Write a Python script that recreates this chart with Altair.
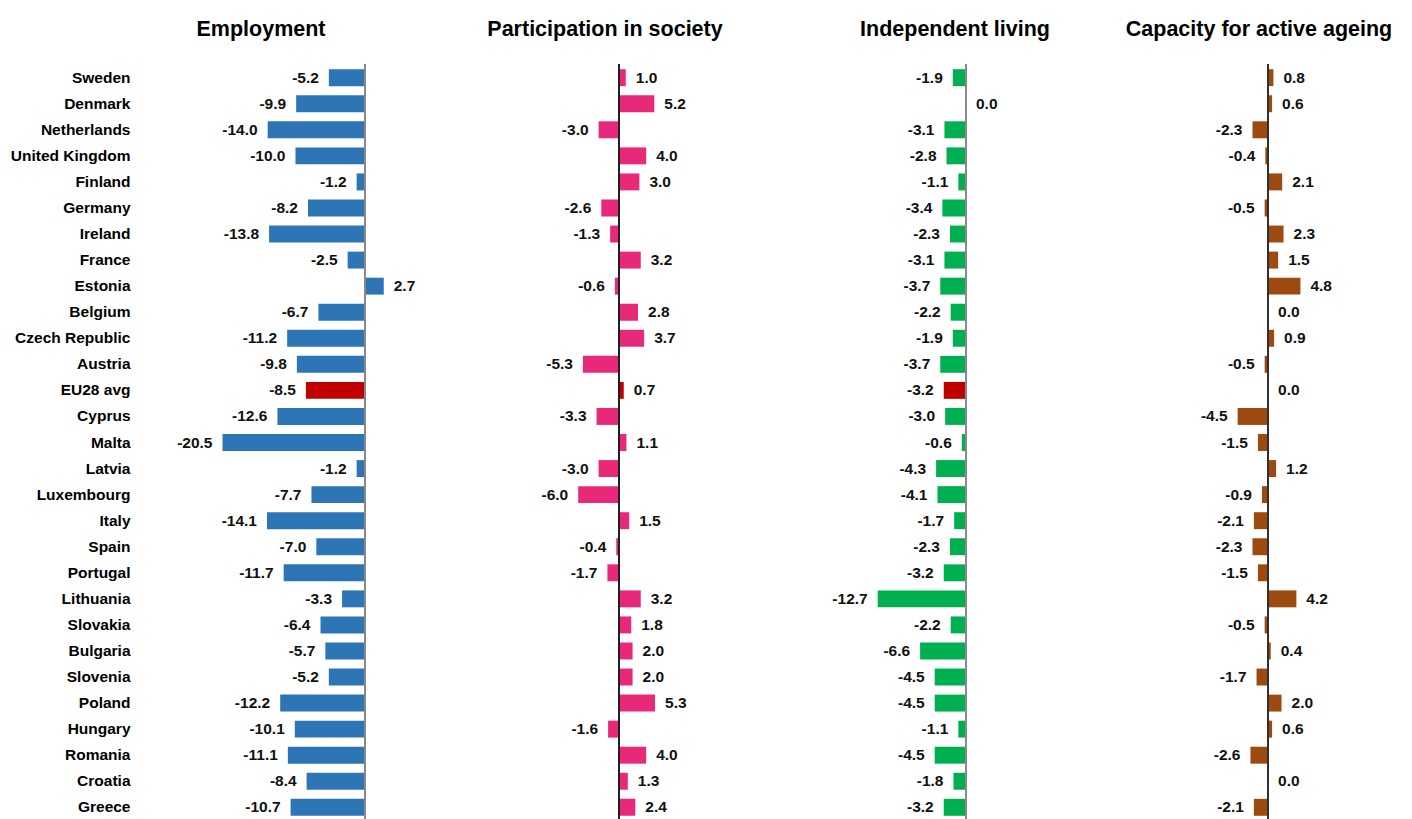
import altair as alt
import pandas as pd

countries = ["Sweden", "Denmark", "Netherlands", "United Kingdom", "Finland", "Germany",
             "Ireland", "France", "Estonia", "Belgium", "Czech Republic", "Austria",
             "EU28 avg", "Cyprus", "Malta", "Latvia", "Luxembourg", "Italy", "Spain",
             "Portugal", "Lithuania", "Slovakia", "Bulgaria", "Slovenia", "Poland",
             "Hungary", "Romania", "Croatia", "Greece"]

employment = [-5.2, -9.9, -14.0, -10.0, -1.2, -8.2, -13.8, -2.5, 2.7, -6.7, -11.2, -9.8,
              -8.5, -12.6, -20.5, -1.2, -7.7, -14.1, -7.0, -11.7, -3.3, -6.4, -5.7, -5.2,
              -12.2, -10.1, -11.1, -8.4, -10.7]
participation = [1.0, 5.2, -3.0, 4.0, 3.0, -2.6, -1.3, 3.2, -0.6, 2.8, 3.7, -5.3, 0.7,
                 -3.3, 1.1, -3.0, -6.0, 1.5, -0.4, -1.7, 3.2, 1.8, 2.0, 2.0, 5.3, -1.6,
                 4.0, 1.3, 2.4]
independent = [-1.9, 0.0, -3.1, -2.8, -1.1, -3.4, -2.3, -3.1, -3.7, -2.2, -1.9, -3.7, -3.2,
               -3.0, -0.6, -4.3, -4.1, -1.7, -2.3, -3.2, -12.7, -2.2, -6.6, -4.5, -4.5,
               -1.1, -4.5, -1.8, -3.2]
capacity = [0.8, 0.6, -2.3, -0.4, 2.1, -0.5, 2.3, 1.5, 4.8, 0.0, 0.9, -0.5, 0.0, -4.5,
            -1.5, 1.2, -0.9, -2.1, -2.3, -1.5, 4.2, -0.5, 0.4, -1.7, 2.0, 0.6, -2.6, 0.0,
            -2.1]

titles = ["Employment", "Participation in society", "Independent living",
          "Capacity for active ageing"]
series = [employment, participation, independent, capacity]

# styling per panel
colors = ["#2E75B6", "#E8297A", "#00B050", "#9C4A10"]
rule_colors = ["#8A8A8A", "#202020", "#8A8A8A", "#303030"]
domains = [[-32.37, 13.67], [-23.38, 26.62], [-23.88, 20.72], [-23.41, 18.07]]
widths = [320, 340, 310, 280]
title_dx = [-39, -25, 0, 9]
HIGHLIGHT = "#C00000"
FONT = "Liberation Sans"
PLOT_H = 757
LABEL_SIZE = 15.5


def panel(i):
    df = pd.DataFrame({"country": countries, "value": series[i]})
    df["label"] = [f"{v:.1f}" for v in series[i]]
    df["zero"] = 0.0
    df["hl"] = ["EU28" if c == "EU28 avg" else "other" for c in countries]
    if i == 0:
        yaxis = alt.Axis(title=None, ticks=False, domain=False, labelFont=FONT,
                         labelFontSize=LABEL_SIZE, labelFontWeight="bold",
                         labelColor="#000000", labelPadding=10,
                         minExtent=132, maxExtent=132)
    else:
        yaxis = None
    y = alt.Y("country:N", sort=countries, axis=yaxis, title=None,
              scale=alt.Scale(paddingInner=0.35, paddingOuter=0.2))
    xscale = alt.Scale(domain=domains[i], nice=False, zero=False)
    x = alt.X("value:Q", axis=None, title=None, scale=xscale)
    base = alt.Chart(df)
    bars = base.mark_bar().encode(
        x=x, y=y,
        color=alt.Color("hl:N", legend=None,
                        scale=alt.Scale(domain=["EU28", "other"],
                                        range=[HIGHLIGHT, colors[i]])),
    )
    rule = base.mark_rule(color=rule_colors[i], strokeWidth=1.3).encode(
        x=alt.X("zero:Q", axis=None, title=None, scale=xscale))
    neg = base.transform_filter("datum.value < 0").mark_text(
        align="right", baseline="middle", dx=-10, font=FONT, fontSize=LABEL_SIZE,
        fontWeight="bold", color="#111111").encode(x=x, y=y, text="label:N")
    pos = base.transform_filter("datum.value >= 0").mark_text(
        align="left", baseline="middle", dx=10, font=FONT, fontSize=LABEL_SIZE,
        fontWeight="bold", color="#111111").encode(x=x, y=y, text="label:N")
    return alt.layer(bars, rule, neg, pos).properties(
        width=widths[i], height=PLOT_H,
        title=alt.TitleParams(titles[i], font=FONT, fontSize=21.5, fontWeight="bold",
                              color="#000000", anchor="middle", dx=title_dx[i],
                              offset=23),
    )


chart = alt.hconcat(
    *[panel(i) for i in range(4)], spacing=0,
    padding={"top": 10, "left": 0, "right": 0, "bottom": 0},
).resolve_scale(color="independent").configure_view(stroke=None)

chart.save("out.html", embed_options={"renderer": "svg", "actions": False})
